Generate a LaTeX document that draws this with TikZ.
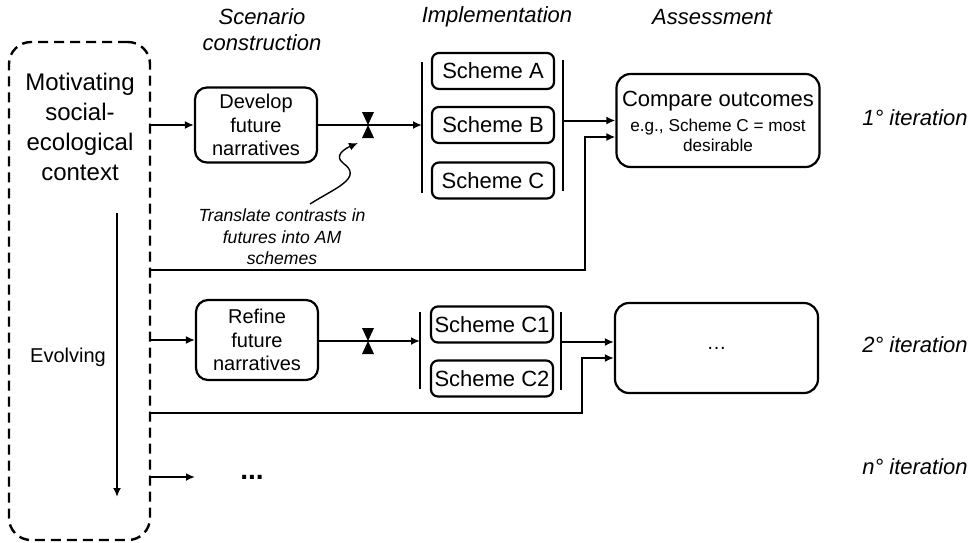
\documentclass[tikz,border=0pt]{standalone}
\usepackage{fontspec}
\setmainfont{Liberation Sans}
\usetikzlibrary{positioning, calc}
\usetikzlibrary{arrows.meta}

\tikzset{valve/.pic={
	\fill[-] (-6,-13) -- (6,-13) -- (0,0) -- cycle;
	\fill[-] (-6,13) -- (6,13) -- (0,0) -- cycle;
}}

\begin{document}
\begin{tikzpicture}[->, >={Latex[length=4.5pt,width=4pt]}, draw=black!100, line width=1pt, x=0.5pt, y=-0.5pt]
	\tikzstyle{ctx-box}=[draw, dash pattern=on 5pt off 3pt, line width=1.2pt, rounded corners=11pt, minimum width=70.5pt, minimum height=249pt, inner sep=0pt]
	\tikzstyle{n-box}=[draw, line width=1.1pt, rounded corners=6pt, minimum width=61pt, minimum height=37.5pt, align=center, font=\fontsize{10}{11.75}\selectfont]
	\tikzstyle{s-box}=[draw, line width=1.1pt, rounded corners=3.5pt, minimum width=61pt, minimum height=18pt, inner sep=0pt, font=\fontsize{11}{13}\selectfont]
	\tikzstyle{a-box}=[draw, line width=1.1pt, rounded corners=7pt, minimum width=101.5pt, minimum height=46.5pt, align=center]
	\tikzstyle{head}=[font=\fontsize{11}{13}\selectfont\itshape, align=center]
	\tikzstyle{annot}=[font=\fontsize{8.8}{10.7}\selectfont\itshape, align=center]
	\useasboundingbox (0,0) rectangle (974,542);

	% column heads
	\node[head] (scen-head)		at (262,30)	{Scenario\\construction};
	\node[head] (impl-head)		at (497,17)	{Implementation};
	\node[head] (assess-head)	at (712,17)	{Assessment};

	% context
	\node[ctx-box] (ctx) at (79.5,291) {};
	\node[align=center, font=\fontsize{12}{15}\selectfont] (ctx-label) at (80,127) {Motivating\\social-\\ecological\\context};
	\node[font=\fontsize{10}{12}\selectfont] (evo-label) at (68,357) {Evolving};
	\coordinate (evo-s) at (117,213);
	\coordinate (evo-e) at (117,497);
	\draw (evo-s) -- (evo-e);

	% 1st iteration
	\node[n-box] (dev1)	at (256,125)	{Develop\\future\\narratives};
	\node[s-box] (sA)	at (493,71)	{Scheme A};
	\node[s-box] (sB)	at (493,125)	{Scheme B};
	\node[s-box] (sC)	at (493,180.5)	{Scheme C};
	\node[a-box] (cmp)	at (718,120.5)	{};
	\node[font=\fontsize{11}{13}\selectfont] (cmp-title) at (718,101) {Compare outcomes};
	\node[align=center, font=\fontsize{8.6}{10}\selectfont] (cmp-note) at (718,135) {e.g., Scheme C = most\\desirable};
	\node[head] (it1) at (915,118) {1° iteration};
	\draw[-] (422,62) -- (422,193);
	\draw[-] (563,60) -- (563,191);
	\coordinate (v1) at (368,125);
	\coordinate (br1-in) at (422,125);
	\coordinate (br1-out) at (563,120.5);
	\coordinate (fb1) at (585,270);
	\pic at (v1) {valve};
	\draw (ctx.east |- dev1.west) -- (dev1.west);
	\draw (dev1.east) -- (v1) -- (br1-in);
	\draw (br1-out) -- (br1-out -| cmp.west);
	\draw (ctx.east |- fb1) -- (fb1) |- ($(cmp.west)+(0,16.5)$);

	% translation note
	\node[annot] (trans) at (282,237) {Translate contrasts in\\futures into AM\\schemes};
	\coordinate (wv-s) at (310,204);
	\coordinate (wv-e) at (358,143);
	\draw[line width=0.7pt] (wv-s) .. controls (335,188) and (364,178) .. (343,163) .. controls (334,156) and (344,149) .. (wv-e);

	% 2nd iteration
	\node[n-box, minimum height=40pt] (ref2) at (257,340) {Refine\\future\\narratives};
	\node[s-box] (sC1)	at (492,324.5)	{Scheme C1};
	\node[s-box] (sC2)	at (492,378.5)	{Scheme C2};
	\node[a-box, minimum height=45pt] (dots2) at (716.5,348) {\fontsize{10}{12}\selectfont …};
	\node[head] (it2) at (915,345) {2° iteration};
	\draw[-] (420,312) -- (420,389);
	\draw[-] (561,312) -- (561,390);
	\coordinate (v2) at (368,341);
	\coordinate (br2-in) at (420,341);
	\coordinate (br2-out) at (561,342);
	\coordinate (fb2) at (582,413);
	\pic at (v2) {valve};
	\draw (ctx.east |- ref2.west) -- (ref2.west);
	\draw (ref2.east |- v2) -- (v2) -- (br2-in);
	\draw (br2-out) -- (br2-out -| dots2.west);
	\draw (ctx.east |- fb2) -- (fb2) |- ($(dots2.west)+(0,10)$);

	% n-th iteration
	\node[font=\fontsize{14}{16}\selectfont\bfseries] (dots3) at (252,477) {...};
	\node[head] (itn) at (915,467) {n° iteration};
	\coordinate (r3-e) at (195,477);
	\draw (ctx.east |- r3-e) -- (r3-e);
\end{tikzpicture}
\end{document}
